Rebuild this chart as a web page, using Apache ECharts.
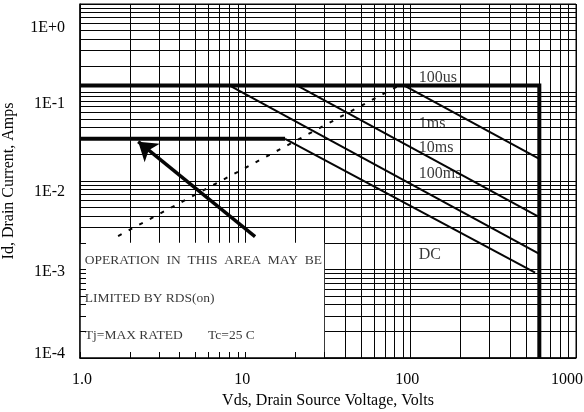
<!DOCTYPE html>
<html>
<head>
<meta charset="utf-8">
<script src="https://cdn.jsdelivr.net/npm/echarts@6/dist/echarts.min.js"></script>
<style>
html, body { margin: 0; padding: 0; background: #fff; }
#chart { width: 584px; height: 412px; }
</style>
</head>
<body>
<div id="chart"></div>
<script>
// Safe operating area: drain current against drain-source voltage, log-log.

// axis ticks
const xTickValues = [1, 10, 100, 1000];
const xTickLabels = ['1.0', '10', '100', '1000'];
const yTickValues = [1e-4, 1e-3, 1e-2, 1e-1, 1];
const yTickLabels = ['1E-4', '1E-3', '1E-2', '1E-1', '1E+0'];

// boundary lines, points are [volts, amps]
const pulseLimit = [[1, 0.12], [600, 0.12], [600, 1e-4]];
const dcCurrentLimit = [[1, 0.03], [17.4, 0.03]];
const dcPowerLine = [[17.4, 0.03], [566, 0.00092]];
const line100us = [[91, 0.12], [600, 0.0178]];
const line1ms = [[20.5, 0.12], [600, 0.0039]];
const line10ms = [[8.0, 0.12], [600, 0.0015]];
const rdsOnLimit = [[1.7, 0.00239], [85, 0.12]];
const arrowFrom = [11.45, 0.00235];
const arrowTo = [2.25, 0.0278];

// pulse-width captions
const curveLabels = ['100us', '1ms', '10ms', '100ms', 'DC'];
const curveLabelAt = [[112, 0.146], [112, 0.0441], [112, 0.0236], [112, 0.0120], [112, 0.00146]];

// note in the lower-left corner
const noteLines = ['OPERATION  IN  THIS  AREA  MAY  BE', 'LIMITED BY RDS(on)', 'Tj=MAX RATED', 'Tc=25 C'];
const noteAt = [[1.07, 0.00125], [1.07, 0.00047], [1.07, 0.00018], [5.95, 0.00018]];
const noteBox = [1, 1e-4, 30, 0.002];

const INK = '#050505';
const FONT = '"Liberation Serif", "DejaVu Serif", serif';

// full log grid: 1..9 in every decade
function decadeSteps(lo, hi) {
  const out = [];
  for (let d = lo; d < hi; d *= 10) {
    for (let k = 1; k <= 9; k++) out.push(+(k * d).toPrecision(3));
  }
  out.push(hi);
  return out;
}
const xGrid = decadeSteps(1, 1000);
const yGrid = decadeSteps(1e-4, 1);

// per-label nudges (vertical for y labels, horizontal for x labels)
const yLabelRich = {
  y0: { padding: [0, 0, 8, 0] },
  y1: { padding: [4, 0, 0, 0] },
  y2: { padding: [22, 0, 0, 0] },
  y3: { padding: [22, 0, 0, 0] },
  y4: { padding: [48, 0, 0, 0] }
};
const xLabelRich = {
  x0: { padding: [0, 0, 0, 4] },
  x1: { padding: [0, 6, 0, 0] },
  x2: { padding: [0, 7, 0, 0] },
  x3: { padding: [0, 18, 0, 0] }
};
function findIdx(list, v) {
  let best = 0;
  list.forEach((t, i) => { if (Math.abs(Math.log10(t) - Math.log10(v)) < Math.abs(Math.log10(list[best]) - Math.log10(v))) best = i; });
  return best;
}

const chart = echarts.init(document.getElementById('chart'), null, { renderer: 'canvas' });

const axisFont = { fontFamily: FONT, fontSize: 16, color: INK };

function plain(data, width, extra) {
  return Object.assign({
    type: 'line', data: data, symbol: 'none', z: 4, silent: true,
    lineStyle: { color: INK, width: width, cap: 'butt', join: 'miter' },
    xAxisIndex: 0, yAxisIndex: 0
  }, extra || {});
}

chart.setOption({
  animation: false,
  backgroundColor: '#fff',
  grid: {
    left: 80, right: 8, top: 4, bottom: 54,
    containLabel: false, outerBoundsMode: 'none',
    show: true, borderColor: INK, borderWidth: 1
  },
  xAxis: [
    {
      type: 'log', logBase: 10, min: 1, max: 1000, z: 0, position: 'bottom',
      name: 'Vds, Drain Source Voltage, Volts', nameLocation: 'middle', nameGap: 35,
      nameTextStyle: axisFont,
      axisLine: { show: false }, axisTick: { show: false }, splitLine: { show: false },
      axisLabel: {
        margin: 14, fontFamily: FONT, fontSize: 16, color: INK,
        formatter: v => { const i = findIdx(xTickValues, v); return '{x' + i + '|' + xTickLabels[i] + '}'; },
        rich: xLabelRich
      }
    },
    {
      type: 'log', logBase: 10, min: 1, max: 1000, z: 10, position: 'bottom',
      axisLine: { show: true, lineStyle: { color: INK, width: 1.5 } },
      axisTick: { show: true, inside: true, length: 6, customValues: xGrid, lineStyle: { color: INK, width: 1 } },
      axisLabel: { show: false }, splitLine: { show: false }
    }
  ],
  yAxis: [
    {
      type: 'log', logBase: 10, min: 1e-4, max: 1, z: 0, position: 'left',
      name: 'Id, Drain Current, Amps', nameLocation: 'middle', nameGap: 63, nameRotate: 90,
      nameTextStyle: axisFont,
      axisLine: { show: false }, axisTick: { show: false }, splitLine: { show: false },
      axisLabel: {
        margin: 15, fontFamily: FONT, fontSize: 16, color: INK,
        formatter: v => { const i = findIdx(yTickValues, v); return '{y' + i + '|' + yTickLabels[i] + '}'; },
        rich: yLabelRich
      }
    },
    {
      type: 'log', logBase: 10, min: 1e-4, max: 1, z: 10, position: 'left',
      axisLine: { show: true, lineStyle: { color: INK, width: 1.5 } },
      axisTick: { show: true, inside: true, length: 6, customValues: yGrid, lineStyle: { color: INK, width: 1 } },
      axisLabel: { show: false }, splitLine: { show: false }
    }
  ],
  series: [
    // grid lines
    {
      type: 'line', data: [], symbol: 'none', silent: true,
      markLine: {
        z: 1, silent: true, precision: 12, symbol: ['none', 'none'], label: { show: false }, animation: false,
        lineStyle: { color: INK, width: 1, type: 'solid' },
        emphasis: { disabled: true },
        data: xGrid.map(v => ({ xAxis: v })).concat(yGrid.map(v => ({ yAxis: v })))
      }
    },
    // blank panel behind the note
    {
      type: 'custom', z: 3, silent: true,
      data: [noteBox],
      renderItem: (params, api) => {
        const p1 = api.coord([api.value(0), api.value(1)]);
        const p2 = api.coord([api.value(2), api.value(3)]);
        return {
          type: 'rect',
          shape: { x: Math.min(p1[0], p2[0]), y: Math.min(p1[1], p2[1]), width: Math.abs(p2[0] - p1[0]), height: Math.abs(p2[1] - p1[1]) },
          style: { fill: '#fff' }
        };
      }
    },
    plain(pulseLimit, 4),
    plain(dcCurrentLimit, 4),
    plain(dcPowerLine, 2),
    plain(line100us, 2),
    plain(line1ms, 2),
    plain(line10ms, 2),
    plain(rdsOnLimit, 2, { lineStyle: { color: INK, width: 2, type: [4, 8] } }),
    // arrow pointing at the RDS(on)-limited region
    {
      type: 'line', data: [], symbol: 'none', silent: true,
      markLine: {
        z: 6, silent: true, animation: false, precision: 12, symbol: ['none', 'arrow'], symbolSize: 18,
        label: { show: false }, emphasis: { disabled: true },
        lineStyle: { color: INK, width: 3.5, type: 'solid' },
        data: [[{ coord: arrowFrom }, { coord: arrowTo }]]
      }
    },
    // captions
    {
      type: 'scatter', z: 7, silent: true, symbolSize: 0,
      data: curveLabelAt.map((p, i) => ({ value: p, name: curveLabels[i] })),
      label: { show: true, position: 'right', distance: 0, formatter: p => p.name, fontFamily: FONT, fontSize: 16, color: INK }
    },
    {
      type: 'scatter', z: 7, silent: true, symbolSize: 0,
      data: noteAt.map((p, i) => ({ value: p, name: noteLines[i] })),
      label: { show: true, position: 'right', distance: 0, formatter: p => p.name, fontFamily: FONT, fontSize: 13.5, color: INK }
    }
  ]
});
</script>
</body>
</html>
